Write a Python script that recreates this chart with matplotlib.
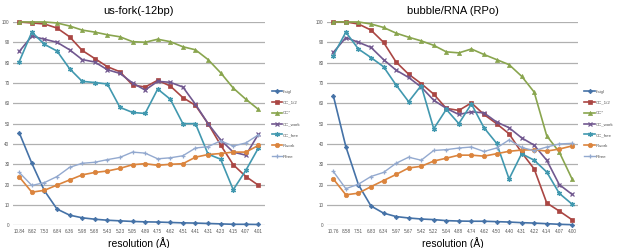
import matplotlib
matplotlib.use("Agg")
import matplotlib.pyplot as plt

plt.rcParams['font.family'] = ['Liberation Sans', 'DejaVu Sans']

series_names = ["I/sigI", "CC_1/2", "CC*", "CC_work", "CC_free", "Rwork", "Rfree"]

# Left panel: us-fork(-12bp)
left_title = "us-fork(-12bp)"
left_res = ["10.84", "8.62", "7.53", "6.84", "6.36", "5.98", "5.68", "5.43", "5.23", "5.05",
            "4.89", "4.75", "4.62", "4.51", "4.41", "4.31", "4.23", "4.15", "4.07", "4.01"]
left_isigi = [45.5, 30.5, 17, 8, 5, 3.7, 3, 2.5, 2.2, 1.9, 1.7, 1.6, 1.4, 1.2, 1.1, 0.9, 0.7, 0.5, 0.5, 0.4]
left_cchalf = [100, 99.5, 99, 97, 92.7, 86, 82, 78, 75.5, 69, 68, 71.3, 68.5, 62.8, 59, 50, 39.5, 29.8, 24, 19.7]
left_ccstar = [100, 100, 100, 99.5, 98, 96, 95, 93.7, 92.7, 90.3, 90, 91.5, 90.3, 87.8, 86.3, 81.5, 75, 67.5, 62, 57]
left_ccwork = [85.5, 93, 91.5, 90, 86.3, 81.5, 80.3, 76.5, 74.7, 70, 66.5, 70.8, 70.3, 68, 59.5, 50, 42, 36, 34.5, 44.8]
left_ccfree = [80.5, 95, 89, 85.7, 77, 70.8, 70.2, 69.5, 58, 55.5, 55, 67, 62, 50, 50, 35, 32.5, 17.5, 27, 38]
left_rwork = [23.8, 16.3, 17.2, 19.8, 22.3, 24.8, 26, 26.7, 28, 29.8, 30.3, 29.5, 30, 30.3, 33.5, 34.8, 35.3, 36, 36, 39.3]
left_rfree = [26, 19.6, 21, 24, 28.5, 30.5, 31, 32.3, 33.4, 36, 35.5, 32.7, 33.2, 34.2, 38, 38.7, 41.5, 39, 40.5, 44.5]

# Right panel: bubble/RNA (RPo)
right_title = "bubble/RNA (RPo)"
right_res = ["10.76", "8.58", "7.51", "6.83", "6.34", "5.97", "5.67", "5.42", "5.22", "5.04",
             "4.88", "4.74", "4.62", "4.50", "4.40", "4.31", "4.22", "4.14", "4.07", "4.00"]
right_isigi = [63.8, 38.7, 20, 9.5, 6, 4.3, 3.6, 3.1, 2.8, 2.3, 2.1, 2.0, 2.0, 1.8, 1.6, 1.3, 1.1, 0.8, 0.5, 0.3]
right_cchalf = [100, 100, 99, 96, 90, 80.3, 74.3, 69.7, 64.5, 57.5, 56.5, 60.2, 54.5, 50, 45, 35.8, 27.7, 11, 7, 2.8]
right_ccstar = [100, 100, 100, 99, 97.3, 94.5, 92.5, 90.7, 88.5, 85.3, 84.8, 86.7, 84, 81.5, 79, 73.3, 65.5, 44, 36, 23]
right_ccwork = [85, 92.3, 90, 87.5, 81.5, 76.3, 72.7, 68, 61.5, 57.5, 54.5, 55.8, 55.3, 50.8, 48, 43, 39.4, 32, 20, 15.3]
right_ccfree = [83.5, 95, 86.7, 82.5, 78, 69, 60.8, 68.7, 47.5, 57, 50, 59.7, 48, 40.4, 22.8, 35.2, 32, 26.2, 15.7, 10.5]
right_rwork = [22.8, 15, 15.8, 19, 22, 25, 28.2, 29, 31.6, 33, 34.5, 34.5, 34, 35.2, 36.4, 37, 37.2, 36.5, 37.5, 39]
right_rfree = [26.5, 18, 20.2, 24, 26, 30.5, 33.5, 32, 36.8, 37.2, 38, 38.5, 36.3, 38, 42, 38.3, 36.7, 38.5, 40, 40.3]

colors = ["#4572A7", "#AA4643", "#89A54E", "#71588F", "#4198AF", "#DB843D", "#93A9CF"]
markers = ["D", "s", "^", "x", (6, 2, 0), "o", "+"]
msizes = [2.3, 3.0, 3.0, 3.2, 3.6, 3.2, 3.4]
lws = [1.2, 1.2, 1.2, 1.2, 1.2, 1.2, 1.0]

fig = plt.figure(figsize=(6.17, 2.48), dpi=100)

def panel(rect, title, res, data):
    ax = fig.add_axes(rect)
    x = list(range(len(res)))
    handles = []
    for name, vals, c, m, ms, lw in zip(series_names, data, colors, markers, msizes, lws):
        h, = ax.plot(x, vals, color=c, marker=m, markersize=ms, lw=lw,
                     markeredgewidth=0.9 if m in ("x", "+") or isinstance(m, tuple) else 0.5,
                     markeredgecolor=c, clip_on=False, label=name, zorder=3)
        handles.append(h)
    ax.set_xlim(-0.5, len(res) - 0.5)
    ax.set_ylim(0, 100)
    ax.set_yticks(range(0, 101, 10))
    ax.set_xticks(x)
    ax.set_xticklabels(res)
    ax.tick_params(axis="both", labelsize=3.3, colors="#555555", length=0, pad=2.5)
    ax.grid(axis="y", color="#b0b0b0", lw=0.9)
    ax.set_axisbelow(True)
    for s in ax.spines.values():
        s.set_visible(False)
    ax.set_title(title, fontsize=8, pad=5.5)
    ax.set_xlabel("resolution (Å)", fontsize=7.5, labelpad=2.5)
    return ax, handles

axL, hL = panel([0.021, 0.0915, 0.408, 0.82], left_title, left_res,
                [left_isigi, left_cchalf, left_ccstar, left_ccwork, left_ccfree, left_rwork, left_rfree])
axR, hR = panel([0.530, 0.0915, 0.407, 0.82], right_title, right_res,
                [right_isigi, right_cchalf, right_ccstar, right_ccwork, right_ccfree, right_rwork, right_rfree])

for ax, h, xa in ((axL, hL, 1.02), (axR, hR, 1.018)):
    ax.legend(handles=h, loc="upper left", bbox_to_anchor=(xa, 0.675), frameon=False,
              fontsize=3.2, handlelength=2.3, handletextpad=0.3, labelspacing=1.5,
              borderaxespad=0, labelcolor="#555555")

fig.savefig("out.png", dpi=100)
